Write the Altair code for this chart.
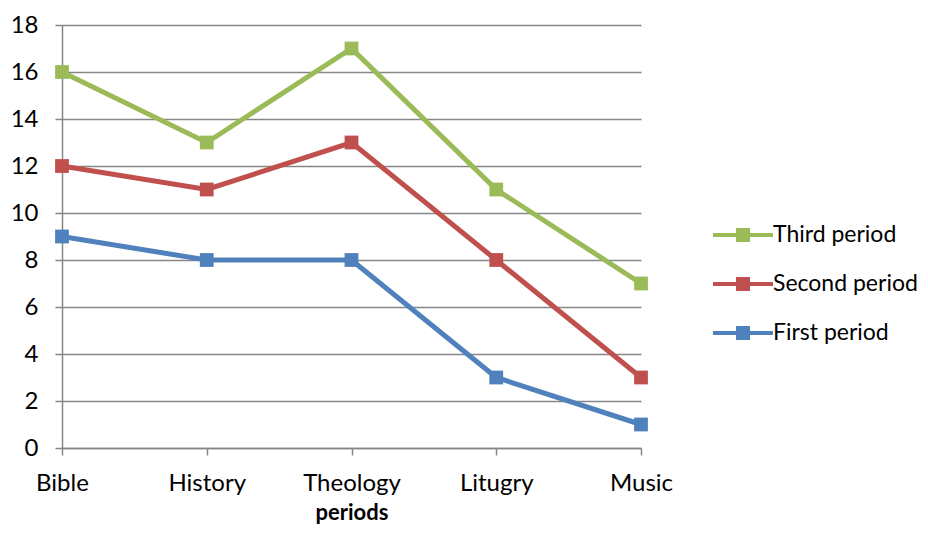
import altair as alt
import pandas as pd

categories = ["Bible", "History", "Theology", "Litugry", "Music"]
series_names = ["Third period", "Second period", "First period"]
third = [16, 13, 17, 11, 7]
second = [12, 11, 13, 8, 3]
first = [9, 8, 8, 3, 1]
colors = ["#9BBB59", "#C0504D", "#4F81BD"]

rows = []
for name, vals in zip(series_names, [third, second, first]):
    for c, v in zip(categories, vals):
        rows.append({"category": c, "series": name, "value": v})
df = pd.DataFrame(rows)

FONT = "Lato"
FS = 24
legend_path = ("M-1,-0.067 L1,-0.067 L1,0.067 L-1,0.067 Z "
               "M-0.233,-0.233 L0.233,-0.233 L0.233,0.233 L-0.233,0.233 Z")

x = alt.X("category:N", sort=categories, title="periods",
          scale=alt.Scale(type="point", padding=0),
          axis=alt.Axis(labelAngle=0, labelFontSize=FS, labelFont=FONT, labelColor="#000000",
                        titleFont=FONT, titleFontSize=22, titleFontWeight="bold", titleColor="#000000",
                        tickSize=7, tickColor="#868686", tickWidth=1.5, labelPadding=16,
                        domainColor="#868686", domainWidth=1.5, grid=False, titlePadding=7))
y = alt.Y("value:Q", title=None,
          scale=alt.Scale(domain=[0, 18], nice=False, zero=True),
          axis=alt.Axis(values=list(range(0, 19, 2)), labelFontSize=FS, labelFont=FONT,
                        labelColor="#000000", tickSize=7, tickColor="#868686", tickWidth=1.5,
                        labelPadding=17, domainColor="#868686", domainWidth=1.5,
                        grid=True, gridColor="#868686", gridWidth=1.5))
color = alt.Color("series:N", sort=series_names,
                  scale=alt.Scale(domain=series_names, range=colors),
                  legend=alt.Legend(title=None, orient="none", legendX=651, legendY=198,
                                    symbolType=legend_path, symbolSize=3600, symbolStrokeWidth=0,
                                    labelFont=FONT, labelFontSize=23, labelColor="#000000",
                                    labelOffset=0, clipHeight=24, rowPadding=25))

points = alt.Chart(df).mark_point(shape="square", filled=True, size=190, opacity=1).encode(
    x=x, y=y, color=color)
lines = alt.Chart(df).mark_line(strokeWidth=5).encode(x=x, y=y, color=color)

chart = alt.layer(points, lines).properties(
    width=579, height=423,
    autosize=alt.AutoSizeParams(type="none"),
    padding={"left": 54, "top": 17, "right": 279, "bottom": 79},
).configure_view(stroke=None)

chart.save("out.html", embed_options={"renderer": "svg", "actions": False})
